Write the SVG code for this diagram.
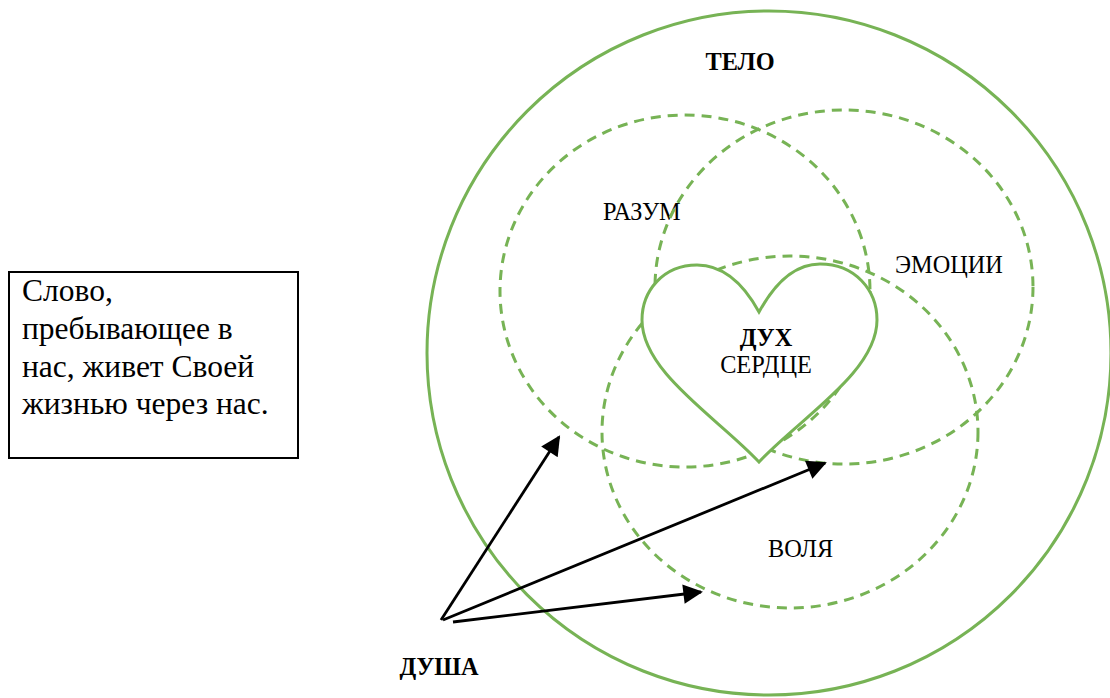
<svg xmlns="http://www.w3.org/2000/svg" width="1110" height="698" viewBox="0 0 1110 698">
<defs>
<style>
.g{fill:none;stroke:#77b355;stroke-width:3}
.d{fill:none;stroke:#77b355;stroke-width:3;stroke-dasharray:10 7}
.a{fill:none;stroke:#000;stroke-width:2.8}
.t{font-family:"Liberation Serif","Times New Roman",serif;font-size:24.3px;fill:#000}
.b{font-weight:bold}
.box{font-family:"Liberation Serif","Times New Roman",serif;font-size:31.5px;fill:#000}
</style>
<marker id="ah" viewBox="0 0 10 10" refX="9" refY="5" markerWidth="8" markerHeight="7" markerUnits="strokeWidth" orient="auto">
<path d="M0,0 L10,5 L0,10 Z" fill="#000"/>
</marker>
</defs>
<rect width="1110" height="698" fill="#fff"/>
<g id="telo">
<circle class="g" cx="769" cy="353" r="342"/>
<text class="t b" x="740" y="70" text-anchor="middle">ТЕЛО</text>
</g>
<g id="razum">
<ellipse class="d" cx="685" cy="291" rx="185" ry="176"/>
<text class="t" x="603" y="220">РАЗУМ</text>
</g>
<g id="emocii">
<ellipse class="d" cx="844" cy="287" rx="189" ry="177"/>
<text class="t" x="895" y="273">ЭМОЦИИ</text>
</g>
<g id="volya">
<ellipse class="d" cx="790" cy="432" rx="188" ry="176"/>
<text class="t" x="768" y="557">ВОЛЯ</text>
</g>
<g id="heart">
<path class="g" style="fill:#fff" d="M759,312 C742,281 722,265 697,265 C663,265 642,291 642,320 C642,372 718,418 759,462 C800,418 877,372 877,320 C877,290 855,264 820,264 C796,264 776,281 759,312 Z"/>
<text class="t b" x="766" y="346" text-anchor="middle">ДУХ</text>
<text class="t" x="766" y="373" text-anchor="middle">СЕРДЦЕ</text>
</g>
<g id="dusha">
<text class="t b" x="439" y="675" text-anchor="middle">ДУША</text>
</g>
<g id="slovo">
<rect x="9" y="272" width="289" height="186" fill="#fff" stroke="#000" stroke-width="2"/>
<text class="box" x="22" y="301">Слово,</text>
<text class="box" x="22" y="339">пребывающее в</text>
<text class="box" x="22" y="377">нас, живет Своей</text>
<text class="box" x="22" y="414">жизнью через нас.</text>
</g>
<g id="connectors">
<line class="a" x1="441" y1="620" x2="559" y2="437" marker-end="url(#ah)"/>
<line class="a" x1="443" y1="620" x2="825" y2="463" marker-end="url(#ah)"/>
<line class="a" x1="453" y1="622" x2="701" y2="592" marker-end="url(#ah)"/>
</g>
</svg>
